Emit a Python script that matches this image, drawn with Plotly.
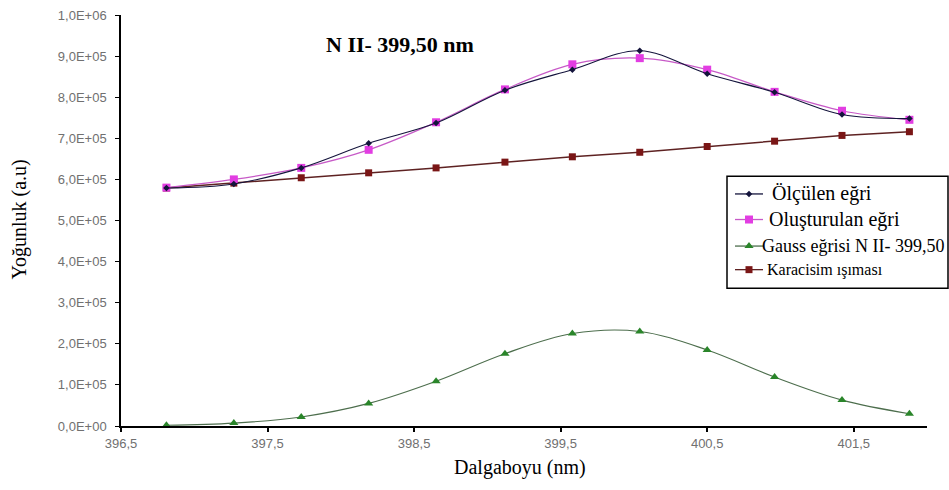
import plotly.graph_objects as go

# ---------------- data ----------------
wavelength = [396.81, 397.27, 397.73, 398.19, 398.65, 399.12, 399.58, 400.04, 400.50, 400.96, 401.42, 401.88]
measured   = [5.79e5, 5.89e5, 6.28e5, 6.88e5, 7.37e5, 8.17e5, 8.67e5, 9.13e5, 8.57e5, 8.12e5, 7.58e5, 7.48e5]
fitted     = [5.80e5, 6.00e5, 6.28e5, 6.72e5, 7.39e5, 8.19e5, 8.80e5, 8.95e5, 8.67e5, 8.13e5, 7.67e5, 7.45e5]
gauss      = [2.0e3, 7.0e3, 2.2e4, 5.5e4, 1.09e5, 1.76e5, 2.25e5, 2.30e5, 1.85e5, 1.19e5, 6.3e4, 3.0e4]
blackbody  = [5.79e5, 5.91e5, 6.04e5, 6.16e5, 6.28e5, 6.42e5, 6.55e5, 6.66e5, 6.80e5, 6.93e5, 7.07e5, 7.16e5]

x_tickvals = [396.5, 397.5, 398.5, 399.5, 400.5, 401.5]
x_ticktext = ["396,5", "397,5", "398,5", "399,5", "400,5", "401,5"]
y_tickvals = [0, 1e5, 2e5, 3e5, 4e5, 5e5, 6e5, 7e5, 8e5, 9e5, 1e6]
y_ticktext = ["0,0E+00", "1,0E+05", "2,0E+05", "3,0E+05", "4,0E+05", "5,0E+05",
              "6,0E+05", "7,0E+05", "8,0E+05", "9,0E+05", "1,0E+06"]

names = ["Ölçülen eğri", "Oluşturulan eğri", "Gauss eğrisi N II- 399,50", "Karacisim ışıması"]
title_text = "N II- 399,50 nm"
x_title = "Dalgaboyu (nm)"
y_title = "Yoğunluk (a.u)"

# ---------------- geometry ----------------
W, H = 949, 490
L, R, T, B = 121, 22, 8, 64
PW, PH = W - L - R, H - T - B

def px(x):
    return (x - L) / PW

def py(y):
    return (H - B - y) / PH

C_MEAS = "#14143c"
C_FIT_M = "#e23de2"
C_FIT_L = "#c75ac7"
C_GAU_M = "#2a852a"
C_GAU_L = "#4d6e4d"
C_BB_M = "#7a1616"
C_BB_L = "#5e2222"

fig = go.Figure()

fig.add_trace(go.Scatter(x=wavelength, y=gauss, mode="lines+markers",
                         line=dict(color=C_GAU_L, width=1.1, shape="spline"),
                         marker=dict(symbol="triangle-up", size=8, color=C_GAU_M),
                         name=names[2], showlegend=False))
fig.add_trace(go.Scatter(x=wavelength, y=blackbody, mode="lines+markers",
                         line=dict(color=C_BB_L, width=1.5),
                         marker=dict(symbol="square", size=7, color=C_BB_M),
                         name=names[3], showlegend=False))
fig.add_trace(go.Scatter(x=wavelength, y=fitted, mode="lines+markers",
                         line=dict(color=C_FIT_L, width=1.2, shape="spline"),
                         marker=dict(symbol="square", size=8, color=C_FIT_M),
                         name=names[1], showlegend=False))
fig.add_trace(go.Scatter(x=wavelength, y=measured, mode="lines+markers",
                         line=dict(color=C_MEAS, width=1.1, shape="spline"),
                         marker=dict(symbol="diamond", size=5, color=C_MEAS),
                         name=names[0], showlegend=False))

# ---------------- manual legend ----------------
leg_rows = [190, 216, 243, 267]
leg_text_x = [770, 767, 760, 765]
leg_sizes = [20, 20, 18, 16]
leg_styles = [
    (C_MEAS, C_MEAS, "diamond", 5),
    (C_FIT_L, C_FIT_M, "square", 8),
    (C_GAU_L, C_GAU_M, "triangle-up", 8),
    (C_BB_L, C_BB_M, "square", 7),
]
for (lc, mc, sym, ms), yy in zip(leg_styles, leg_rows):
    fig.add_trace(go.Scatter(x=[735, 763], y=[yy, yy], mode="lines",
                             line=dict(color=lc, width=1.3),
                             xaxis="x2", yaxis="y2", showlegend=False, hoverinfo="skip"))
    fig.add_trace(go.Scatter(x=[749], y=[yy], mode="markers",
                             marker=dict(symbol=sym, size=ms, color=mc),
                             xaxis="x2", yaxis="y2", showlegend=False, hoverinfo="skip",
                             cliponaxis=False))

shapes = [dict(type="rect", xref="paper", yref="paper",
               x0=px(727), x1=px(948), y0=py(286), y1=py(172),
               line=dict(color="black", width=1.5), fillcolor="white", layer="below")]

annotations = []
for n, yy, xx, fs in zip(names, leg_rows, leg_text_x, leg_sizes):
    annotations.append(dict(text=n, xref="paper", yref="paper", x=px(xx), y=py(yy),
                            xanchor="left", yanchor="middle", showarrow=False,
                            font=dict(family="Liberation Serif", size=fs, color="black")))

annotations.append(dict(text="<b>" + title_text + "</b>", xref="paper", yref="paper",
                        x=px(400), y=py(38), xanchor="center", yanchor="middle", showarrow=False,
                        font=dict(family="Liberation Serif", size=22, color="black")))
annotations.append(dict(text=x_title, xref="paper", yref="paper",
                        x=px(520), y=py(468), xanchor="center", yanchor="middle", showarrow=False,
                        font=dict(family="Liberation Serif", size=20, color="black")))
annotations.append(dict(text=y_title, xref="paper", yref="paper",
                        x=px(20), y=py(216), xanchor="center", yanchor="middle", showarrow=False,
                        textangle=-90,
                        font=dict(family="Liberation Serif", size=20, color="black")))

fig.update_layout(
    width=W, height=H,
    margin=dict(l=L, r=R, t=T, b=B, pad=0),
    paper_bgcolor="white", plot_bgcolor="white",
    showlegend=False,
    xaxis=dict(range=[396.5, 402.0], tickvals=x_tickvals, ticktext=x_ticktext,
               showgrid=False, zeroline=False, showline=True, linecolor="black", linewidth=2,
               ticks="outside", ticklen=4, tickwidth=1.5, tickcolor="black",
               tickfont=dict(family="Liberation Sans", size=13, color="#707070")),
    yaxis=dict(range=[0, 1e6], tickvals=y_tickvals, ticktext=y_ticktext,
               showgrid=False, zeroline=False, showline=True, linecolor="black", linewidth=1.5,
               ticks="outside", ticklen=4, tickwidth=1.2, tickcolor="black",
               ticklabelstandoff=6,
               tickfont=dict(family="Liberation Sans", size=13, color="#707070")),
    xaxis2=dict(overlaying="x", range=[L, W - R], visible=False, fixedrange=True),
    yaxis2=dict(overlaying="y", range=[H - B, T], visible=False, fixedrange=True),
    shapes=shapes,
    annotations=annotations,
)

fig.write_html("out.html", config={"displayModeBar": False},
               post_script="document.body.style.margin='0';document.body.style.overflow='hidden';")
